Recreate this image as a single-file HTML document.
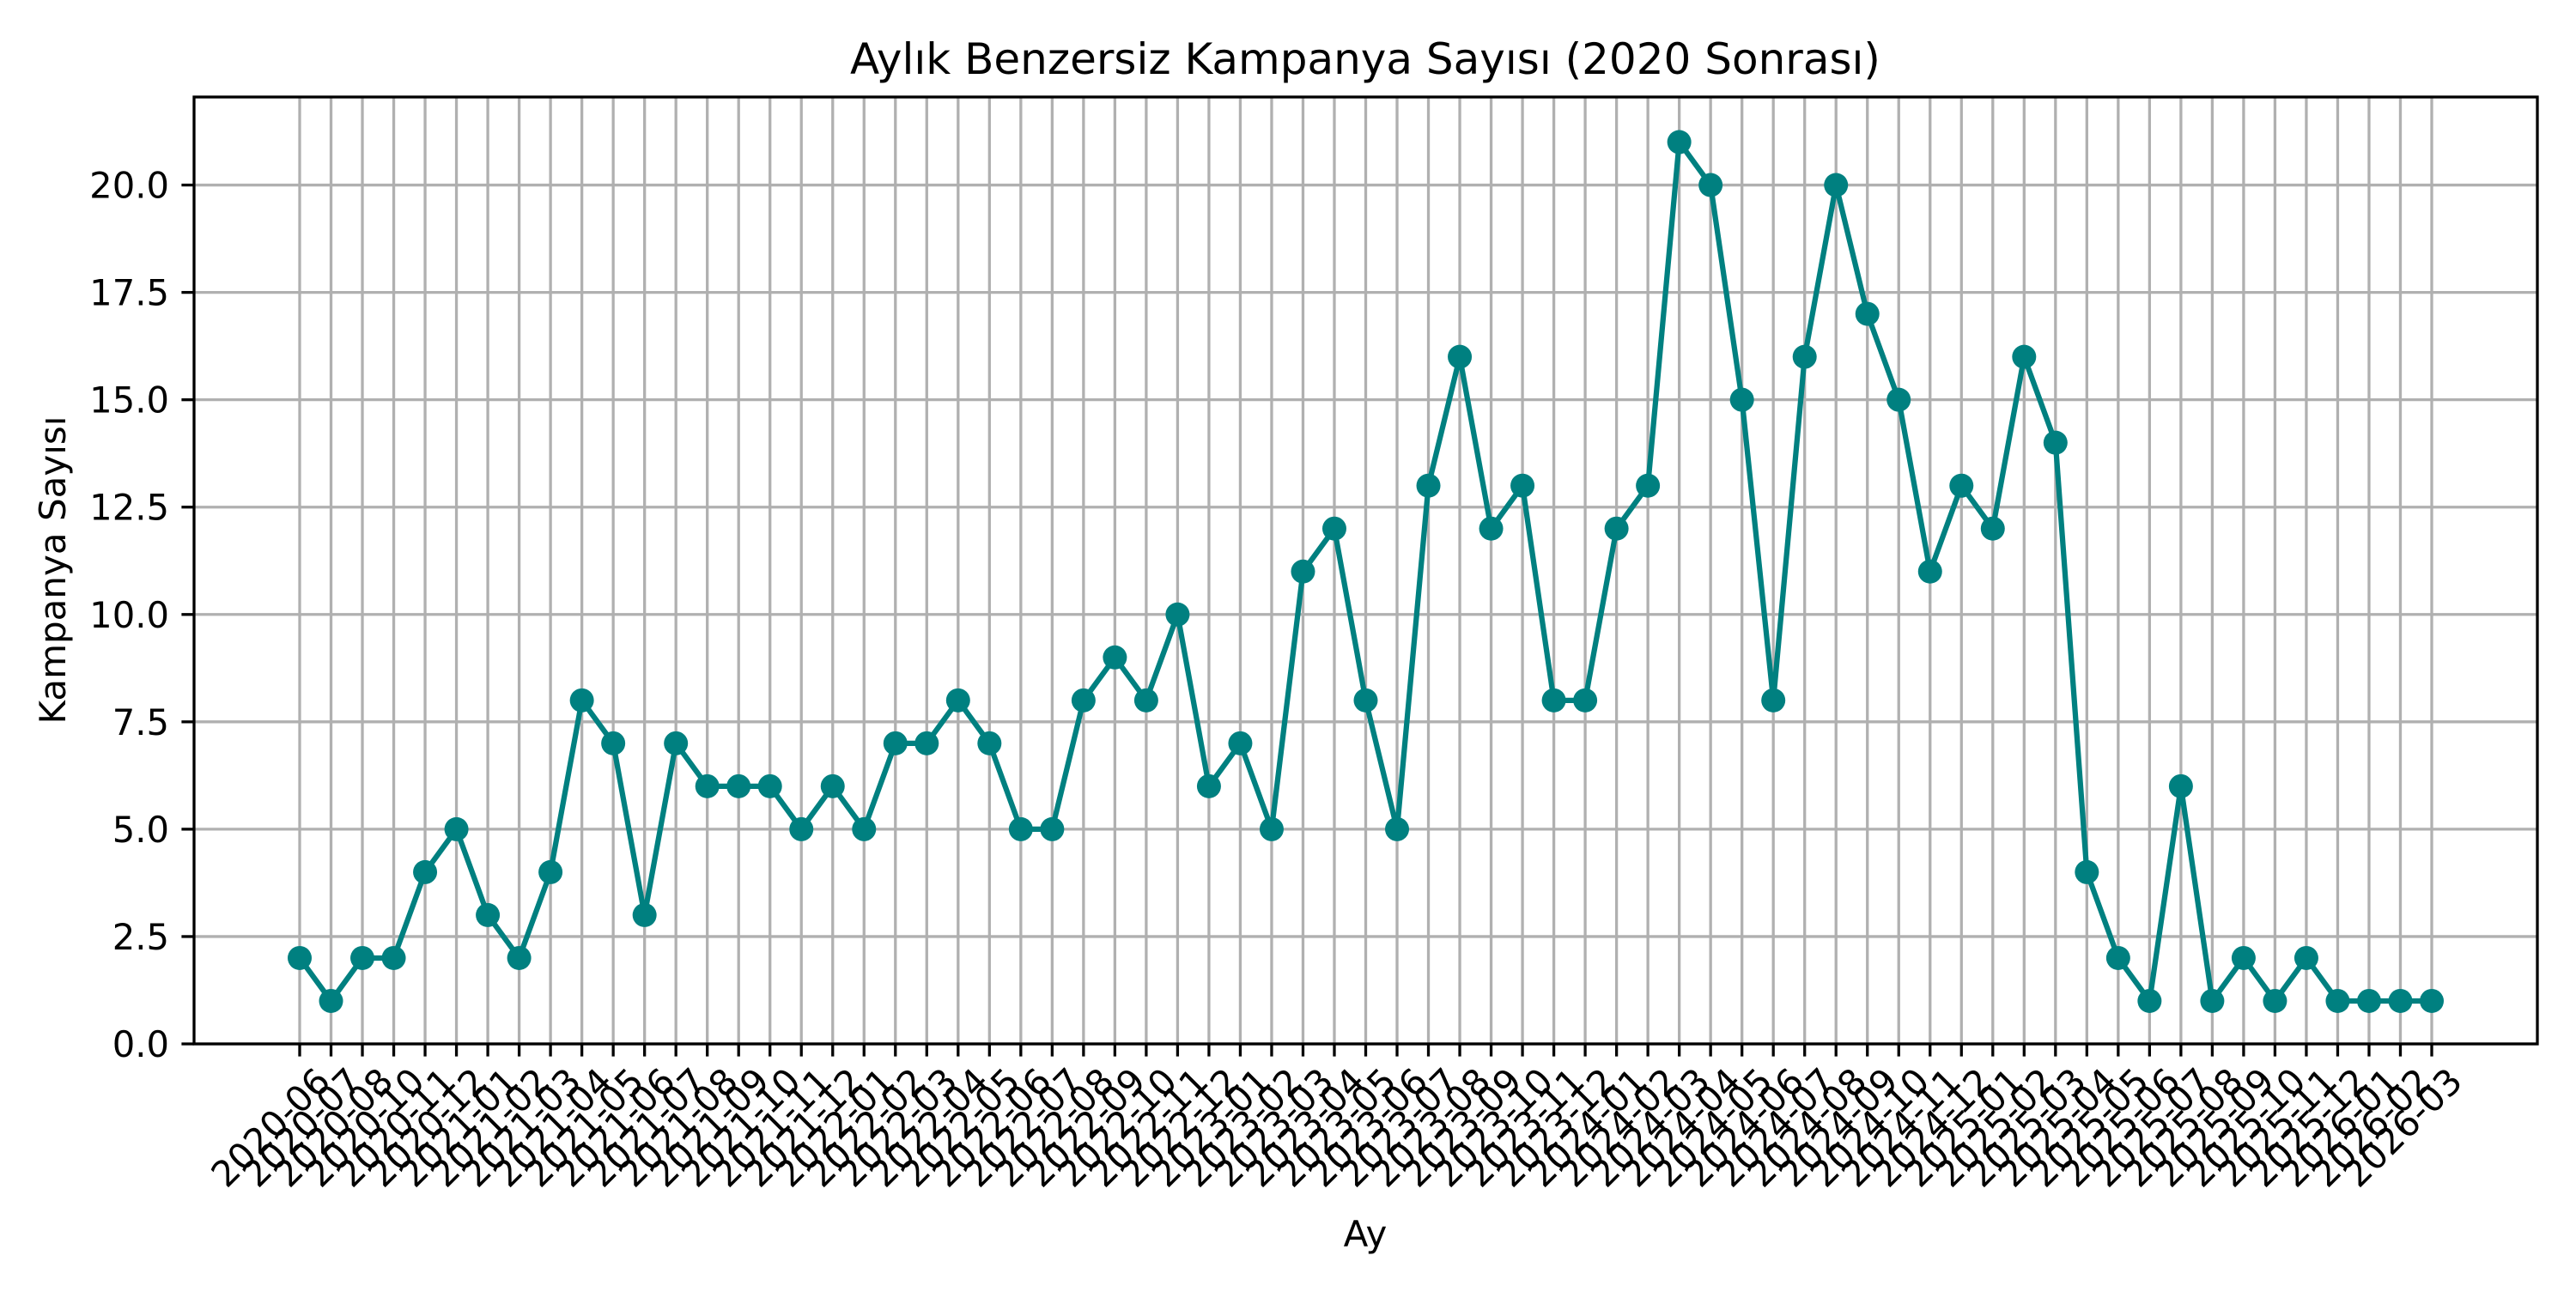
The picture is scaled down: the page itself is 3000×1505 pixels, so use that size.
<!DOCTYPE html>
<html><head><meta charset="utf-8"><style>body{margin:0;background:#fff}svg text{font-family:"DejaVu Sans","Liberation Sans",sans-serif}</style></head>
<body>
<svg id="chart" width="3000" height="1500" xmlns="http://www.w3.org/2000/svg">
<rect width="3000" height="1500" fill="#fff"/>
<text x="1590" y="86" font-size="50" text-anchor="middle">Aylık Benzersiz Kampanya Sayısı (2020 Sonrası)</text>
<text transform="translate(76,664) rotate(-90)" font-size="42" text-anchor="middle">Kampanya Sayısı</text>
<text x="1590" y="1452" font-size="42" text-anchor="middle">Ay</text>
<g id="grid"></g><g id="series"></g><g id="axes"></g>
</svg>
<script>
const categories=["2020-06","2020-07","2020-08","2020-10","2020-11","2020-12","2021-01","2021-02","2021-03","2021-04","2021-05","2021-06","2021-07","2021-08","2021-09","2021-10","2021-11","2021-12","2022-01","2022-02","2022-03","2022-04","2022-05","2022-06","2022-07","2022-08","2022-09","2022-10","2022-11","2022-12","2023-01","2023-02","2023-03","2023-04","2023-05","2023-06","2023-07","2023-08","2023-09","2023-10","2023-11","2023-12","2024-01","2024-02","2024-03","2024-04","2024-05","2024-06","2024-07","2024-08","2024-09","2024-10","2024-11","2024-12","2025-01","2025-02","2025-03","2025-04","2025-05","2025-06","2025-07","2025-08","2025-09","2025-10","2025-11","2025-12","2026-01","2026-02","2026-03"];
const values=[2,1,2,2,4,5,3,2,4,8,7,3,7,6,6,6,5,6,5,7,7,8,7,5,5,8,9,8,10,6,7,5,11,12,8,5,13,16,12,13,8,8,12,13,21,20,15,8,16,20,17,15,11,13,12,16,14,4,2,1,6,1,2,1,2,1,1,1,1];
const yTicks=[0,2.5,5,7.5,10,12.5,15,17.5,20];
const yTickLabels=["0.0","2.5","5.0","7.5","10.0","12.5","15.0","17.5","20.0"];
const NS="http://www.w3.org/2000/svg";
const L=226,R=2955,T=113,B=1216,yMax=21*1.05;
const n=categories.length;
const x=i=>349+i*(2832-349)/(n-1);
const y=v=>B-v/yMax*(B-T);
function mk(tag,attrs,parent){const e=document.createElementNS(NS,tag);for(const k in attrs)e.setAttribute(k,attrs[k]);parent.appendChild(e);return e;}
const grid=document.getElementById('grid'),series=document.getElementById('series'),axes=document.getElementById('axes');
categories.forEach((c,i)=>{
 const g=mk('line',{x1:x(i),x2:x(i),y1:T,y2:B,stroke:'#b0b0b0','stroke-width':3.3},grid);
 
 
 const t=mk('line',{x1:x(i),x2:x(i),y1:B,y2:B+14.6,stroke:'#000','stroke-width':3.3},axes);
 
 
 const lb=mk('text',{transform:`translate(${x(i)+16},${B+24}) rotate(-45)`,'font-size':41.7,'text-anchor':'end','dominant-baseline':'hanging'},axes);
 lb.textContent=c;
 
 
});
yTicks.forEach((v,i)=>{
 const g=mk('line',{x1:L,x2:R,y1:y(v),y2:y(v),stroke:'#b0b0b0','stroke-width':3.3},grid);
 
 
 const t=mk('line',{x1:L-14.6,x2:L,y1:y(v),y2:y(v),stroke:'#000','stroke-width':3.3},axes);
 
 
 const lb=mk('text',{x:L-29,y:y(v)+15,'font-size':41.7,'text-anchor':'end'},axes);
 lb.textContent=yTickLabels[i];
 
 
});
const line=mk('polyline',{points:values.map((v,i)=>x(i)+','+y(v)).join(' '),fill:'none',stroke:'#008080','stroke-width':6.25,'stroke-linejoin':'round'},series);


values.forEach((v,i)=>{
 const p=mk('circle',{cx:x(i),cy:y(v),r:14,fill:'#008080'},series);
 
 
});
const fr=mk('rect',{x:L,y:T,width:R-L,height:B-T,fill:'none',stroke:'#000','stroke-width':3.3},axes);


</script>
</body></html>
